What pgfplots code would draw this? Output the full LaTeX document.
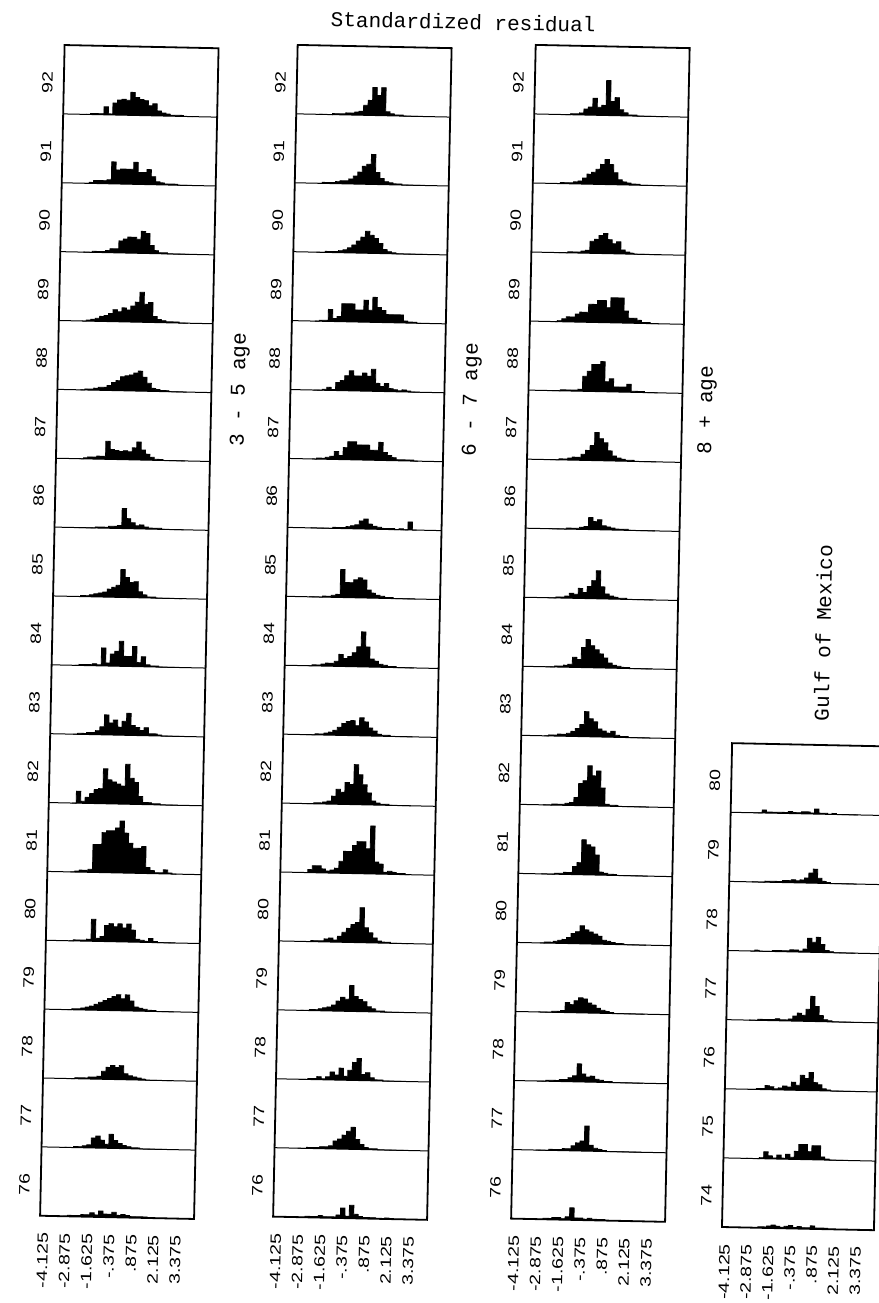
\documentclass[border=0pt]{standalone}
\usepackage{pgfplots}
\pgfplotsset{compat=1.18}
\usepackage{pgfplotstable}
\usepackage{fontspec}
\setmainfont{Liberation Sans}
\newfontfamily\mono{Liberation Mono}
\newfontfamily\wide[FakeStretch=1.3]{Liberation Sans}
\newcommand{\ticks}{\wide\fontsize{7.5}{8}\selectfont}
\newcommand{\lab}{\mono\fontsize{10.5}{12}\selectfont}

% bar heights in pixels (row height = 69), bins of width 0.25 starting at x
\pgfplotstableread{
x y76 y77 y78 y79 y80 y81 y82 y83 y84 y85 y86 y87 y88 y89 y90 y91 y92
-3.00 0 0 0 0 0 0 0 0 0 0 0 0 0 0 0 0 0
-2.75 1 0 0 1 1 1 12 1 1 1 0 1 1 1 0 1 1
-2.50 1 1 1 1 1 2 2 1 1 1 0 2 1 2 1 3 1
-2.25 1 1 1 2 1 2 6 2 1 2 0 2 2 3 1 3 1
-2.00 2 2 1 3 2 3 10 2 2 3 1 3 3 5 1 3 8
-1.75 2 3 2 4 22 28 14 4 1 4 1 3 3 6 2 4 1
-1.50 4 10 2 6 3 28 15 8 18 5 1 18 5 8 4 22 12
-1.25 2 12 3 8 5 40 35 20 3 8 2 10 8 12 4 14 15
-1.00 6 8 8 10 16 42 24 12 12 10 2 9 10 10 12 15 16
-0.75 3 4 12 12 18 42 22 15 15 12 3 8 14 14 14 15 15
-0.50 3 14 14 14 15 45 20 8 25 28 20 9 15 12 16 15 23
-0.25 5 8 12 16 18 52 18 14 10 20 10 8 16 16 16 22 18
0.00 2 5 14 12 14 40 40 22 10 15 6 12 18 20 14 12 16
0.25 3 3 6 16 18 30 26 10 20 16 3 18 20 30 22 12 15
0.50 2 2 4 10 12 25 22 8 4 6 4 10 14 18 20 15 10
0.75 1 1 3 4 3 25 8 5 10 3 2 6 8 20 8 8 12
1.00 1 1 2 3 2 27 2 8 2 1 1 3 3 6 3 3 5
1.25 1 0 1 2 1 6 2 2 1 1 1 1 2 3 1 2 3
1.50 1 0 0 1 4 3 1 2 1 0 1 1 1 2 1 1 2
1.75 0 0 0 1 1 1 1 1 0 0 0 0 1 1 0 1 1
2.00 0 0 0 0 0 1 0 0 0 0 0 0 0 1 0 1 1
2.25 0 0 0 0 0 4 0 0 0 0 0 0 0 1 0 0 1
2.50 0 0 0 0 0 1 0 0 0 0 0 0 0 0 0 0 0
2.75 0 0 0 0 0 0 0 0 0 0 0 0 0 0 0 0 0
3.00 0 0 0 0 0 0 0 0 0 0 0 0 0 0 0 0 0
}\panelA

\pgfplotstableread{
x y76 y77 y78 y79 y80 y81 y82 y83 y84 y85 y86 y87 y88 y89 y90 y91 y92
-3.00 0 0 0 0 0 0 0 0 0 0 0 0 0 0 0 0 0
-2.75 0 0 0 0 0 3 0 0 1 0 0 1 0 1 0 1 0
-2.50 1 1 1 1 1 7 1 1 1 0 0 1 1 1 1 1 0
-2.25 1 1 1 1 1 7 1 1 2 1 0 2 3 12 1 1 1
-2.00 1 1 3 2 1 4 2 2 3 1 0 3 1 3 1 2 1
-1.75 2 2 1 3 3 2 3 3 3 2 1 8 8 5 2 3 1
-1.50 1 2 3 4 4 3 8 5 5 3 1 4 10 18 3 3 2
-1.25 1 3 8 6 2 5 15 8 12 28 1 12 15 18 5 5 2
-1.00 1 8 5 10 6 12 12 12 8 15 2 18 20 18 8 8 3
-0.75 3 10 12 14 10 22 22 14 10 15 3 18 15 12 12 12 4
-0.50 10 14 4 12 14 22 20 15 14 18 4 15 15 12 16 18 10
-0.25 2 18 10 26 18 28 40 10 20 20 8 15 18 22 22 20 15
0.00 13 22 18 15 20 32 30 18 35 18 10 15 15 12 18 30 28
0.25 4 10 22 12 35 32 20 14 20 8 5 10 22 25 15 12 20
0.50 2 5 6 10 15 25 12 8 8 5 3 10 8 15 10 6 28
0.75 1 2 8 5 10 48 4 5 6 3 2 18 5 12 4 3 4
1.00 1 1 3 3 5 12 2 2 3 2 1 8 8 8 2 2 2
1.25 1 1 1 1 2 10 1 1 2 1 1 5 3 8 1 1 1
1.50 0 0 1 1 1 2 1 1 1 1 1 3 2 8 0 1 1
1.75 0 0 0 0 1 3 0 0 1 0 0 1 1 8 0 0 0
2.00 1 0 0 0 0 2 0 0 0 0 1 1 2 2 0 0 0
2.25 0 0 0 0 0 1 0 0 0 0 0 1 1 1 0 0 0
2.50 0 0 0 0 0 1 0 0 0 0 8 1 0 1 0 0 0
2.75 0 0 0 0 0 0 0 0 0 0 0 0 0 0 0 0 0
3.00 0 0 0 0 0 0 0 0 0 0 0 0 0 0 0 0 0
}\panelB

\pgfplotstableread{
x y76 y77 y78 y79 y80 y81 y82 y83 y84 y85 y86 y87 y88 y89 y90 y91 y92
-3.00 0 0 0 0 0 0 0 0 0 0 0 0 0 0 0 0 0
-2.75 0 0 0 0 1 0 0 1 0 0 0 0 0 1 0 1 0
-2.50 1 0 1 0 1 0 1 1 1 1 0 1 1 3 0 1 0
-2.25 1 1 1 1 2 1 1 2 1 1 0 1 1 5 1 1 1
-2.00 2 1 1 1 3 1 1 2 2 2 1 2 1 5 1 2 1
-1.75 2 1 2 2 4 2 2 3 3 5 1 3 1 8 1 3 2
-1.50 1 2 2 10 6 2 3 5 10 4 1 3 2 10 2 6 6
-1.25 3 2 4 8 10 8 8 8 8 10 2 6 15 10 3 10 8
-1.00 12 5 6 12 12 12 22 12 20 6 3 10 20 18 12 12 17
-0.75 2 8 18 15 18 35 25 25 28 12 12 15 27 18 14 15 8
-0.50 2 10 8 14 14 30 40 18 22 18 8 28 27 22 18 20 10
-0.25 1 25 5 10 12 28 30 15 18 28 10 22 30 22 20 25 35
0.00 2 6 6 8 10 20 35 8 14 12 4 18 10 15 14 20 14
0.25 1 3 3 5 8 3 18 6 10 5 3 10 13 25 10 12 18
0.50 1 2 2 3 4 2 2 4 5 3 2 5 5 25 12 5 6
0.75 1 1 1 2 3 1 1 6 3 2 1 3 5 25 4 3 3
1.00 0 0 1 1 2 1 1 2 2 1 1 2 5 12 2 2 1
1.25 0 0 0 0 1 0 0 1 1 1 1 1 8 5 1 1 1
1.50 0 0 0 0 1 0 0 1 1 0 0 1 1 5 0 1 0
1.75 0 0 0 0 0 0 0 0 0 0 0 0 1 3 0 0 0
2.00 0 0 0 0 0 0 0 0 0 0 0 0 1 1 0 0 0
2.25 0 0 0 0 0 0 0 0 0 0 0 0 0 1 0 0 0
2.50 0 0 0 0 0 0 0 0 0 0 0 0 0 0 0 0 0
2.75 0 0 0 0 0 0 0 0 0 0 0 0 0 0 0 0 0
3.00 0 0 0 0 0 0 0 0 0 0 0 0 0 0 0 0 0
}\panelC

\pgfplotstableread{
x y74 y75 y76 y77 y78 y79 y80
-3.00 0 0 0 0 0 0 0
-2.75 0 0 0 0 1 0 0
-2.50 0 0 1 1 0 0 3
-2.25 1 1 1 1 0 1 1
-2.00 1 7 4 1 0 1 1
-1.75 2 3 3 1 1 1 1
-1.50 3 1 1 2 1 1 1
-1.25 2 4 2 1 1 2 1
-1.00 1 1 4 1 1 2 2
-0.75 2 5 3 2 2 3 1
-0.50 3 2 8 5 2 2 1
-0.25 1 8 5 8 1 3 2
0.00 2 15 15 6 3 5 2
0.25 1 15 12 12 14 10 1
0.50 1 8 18 25 10 14 5
0.75 3 14 8 15 15 5 1
1.00 1 14 6 6 8 2 1
1.25 1 3 2 2 2 1 0
1.50 1 1 1 1 1 0 1
1.75 0 0 0 0 0 0 0
2.00 0 0 0 0 0 0 0
3.00 0 0 0 0 0 0 0
}\panelD

\pgfplotsset{
  panel/.style={
    scale only axis, width=77pt,
    xmin=-4.3, xmax=4.4, ymin=0,
    axis line style={line width=0.9pt},
    xtick={-4.125,-2.875,-1.625,-0.375,0.875,2.125,3.375},
    xticklabels={-4.125,-2.875,-1.625,-.375,.875,2.125,3.375},
    xticklabel style={rotate=90, anchor=east, font=\ticks},
    xticklabel shift=5pt,
    major tick length=0pt, minor tick length=0pt,
    yminorgrids, minor grid style={black, line width=0.5pt},
    yticklabel style={rotate=90, anchor=south, font=\ticks},
    yticklabel shift=2pt,
  },
  years17/.style={
    ymax=17,
    ytick={0.45,1.45,2.45,3.45,4.45,5.45,6.45,7.45,8.45,9.45,10.45,11.45,12.45,13.45,14.45,15.45,16.45},
    yticklabels={76,77,78,79,80,81,82,83,84,85,86,87,88,89,90,91,92},
    minor ytick={1,...,16},
  },
  hist/.style={const plot, fill=black, draw=black, line width=0.4pt, mark=none},
}

\begin{document}
\begin{tikzpicture}
\useasboundingbox (0,0) rectangle (439.5pt,-651.5pt);
\begin{scope}[transform canvas={rotate around={-1.2:(220pt,-325.5pt)}}]

\begin{axis}[panel, years17, height=585.5pt, at={(26pt,-26.5pt)}, anchor=north west]
\pgfplotsinvokeforeach{76,...,92}{
  \addplot[hist] table[x=x, y expr={\thisrow{y#1}/69+#1-76}] {\panelA};
}
\end{axis}

\begin{axis}[panel, years17, height=586pt, at={(142.5pt,-24pt)}, anchor=north west]
\pgfplotsinvokeforeach{76,...,92}{
  \addplot[hist] table[x=x, y expr={\thisrow{y#1}/69+#1-76}] {\panelB};
}
\end{axis}

\begin{axis}[panel, years17, height=587pt, at={(261.5pt,-21.5pt)}, anchor=north west]
\pgfplotsinvokeforeach{76,...,92}{
  \addplot[hist] table[x=x, y expr={\thisrow{y#1}/69+#1-76}] {\panelC};
}
\end{axis}

\begin{axis}[panel, at={(367pt,-368.5pt)}, anchor=north west,
  width=76pt, height=242pt, ymax=7,
  ytick={0.45,1.45,2.45,3.45,4.45,5.45,6.45},
  yticklabels={74,75,76,77,78,79,80},
  minor ytick={1,...,6}]
\pgfplotsinvokeforeach{74,...,80}{
  \addplot[hist] table[x=x, y expr={\thisrow{y#1}/69+#1-74}] {\panelD};
}
\end{axis}

\node[font=\lab] at (225pt,-10.75pt) {Standardized residual};
\node[font=\lab, rotate=90] at (117.25pt,-197pt) {3 - 5 age};
\node[font=\lab, rotate=90] at (233.35pt,-199.6pt) {6 - 7 age};
\node[font=\lab, rotate=90] at (351pt,-202.2pt) {8 + age};
\node[font=\lab, rotate=90] at (411.3pt,-312.5pt) {Gulf of Mexico};
\end{scope}
\end{tikzpicture}
\end{document}
